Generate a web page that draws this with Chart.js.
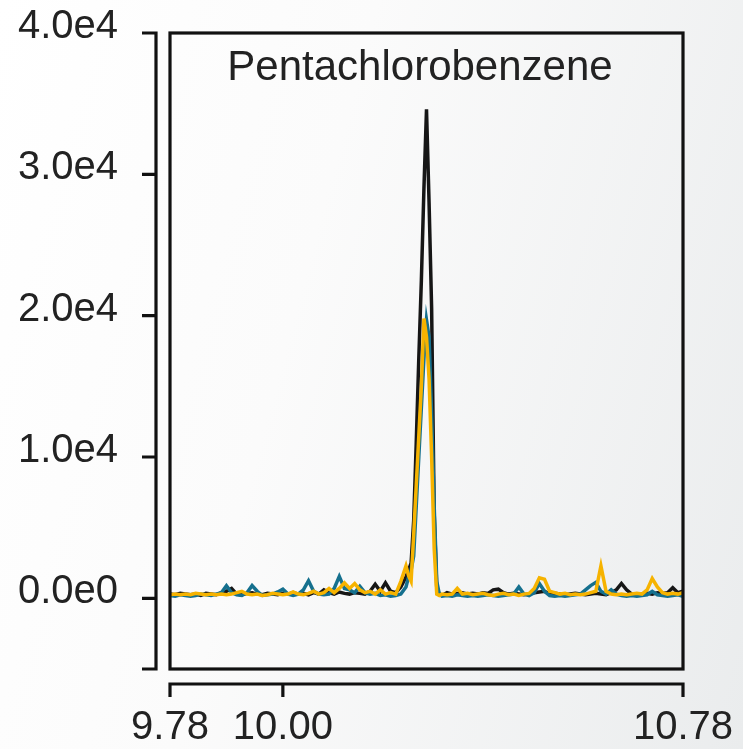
<!DOCTYPE html>
<html>
<head>
<meta charset="utf-8">
<script src="https://cdn.jsdelivr.net/npm/chart.js@4/dist/chart.umd.min.js"></script>
<style>
  html, body { margin: 0; padding: 0; }
  body { width: 743px; height: 749px; overflow: hidden;
         background: linear-gradient(105deg, #ffffff 0%, #fbfbfb 40%, #eaeced 100%); }
  canvas { display: block; }
</style>
</head>
<body>
<canvas id="c" width="743" height="749"></canvas>
<script>
// Retention time (min)
const retentionTimes = [
  9.78, 9.79, 9.80, 9.81, 9.82, 9.83, 9.84, 9.85, 9.86, 9.87,
  9.88, 9.89, 9.90, 9.91, 9.92, 9.93, 9.94, 9.95, 9.96, 9.97,
  9.98, 9.99, 10.00, 10.01, 10.02, 10.03, 10.04, 10.05, 10.06, 10.07,
  10.08, 10.09, 10.10, 10.11, 10.12, 10.13, 10.14, 10.15, 10.16, 10.17,
  10.18, 10.19, 10.20, 10.21, 10.22, 10.23, 10.24,
  10.245, 10.25, 10.255, 10.26, 10.265, 10.27, 10.275, 10.28, 10.285, 10.29,
  10.295, 10.30, 10.305, 10.31,
  10.32, 10.33, 10.34, 10.35, 10.36, 10.37, 10.38, 10.39, 10.40, 10.41,
  10.42, 10.43, 10.44, 10.45, 10.46, 10.47, 10.48, 10.49, 10.50, 10.51,
  10.52, 10.53, 10.54, 10.55, 10.56, 10.57, 10.58, 10.59, 10.60, 10.61,
  10.62, 10.63, 10.64, 10.65, 10.66, 10.67, 10.68, 10.69, 10.70, 10.71,
  10.72, 10.73, 10.74, 10.75, 10.76, 10.77, 10.78
];

const blackSignal = [
  300, 250, 350, 300, 250, 300, 200, 350, 300, 250,
  400, 500, 700, 300, 250, 350, 400, 300, 250, 350,
  300, 250, 350, 300, 400, 300, 350, 250, 400, 300,
  600, 400, 300, 450, 350, 300, 400, 350, 300, 500,
  1000, 500, 1100, 500, 400, 800, 1500,
  2000, 2500, 5500, 11000, 17000, 22500, 29000, 34600, 28000, 20500,
  6000, 700, 300, 200,
  400, 300, 350, 400, 300, 350, 300, 400, 350, 600,
  650, 400, 300, 350, 300, 250, 300, 400, 450, 500,
  300, 350, 300, 250, 300, 350, 300, 250, 300, 350,
  300, 250, 400, 600, 1050, 600, 300, 250, 300, 350,
  300, 400, 350, 400, 750, 400, 500
];

const blueSignal = [
  200, 150, 250, 200, 150, 200, 300, 250, 200, 300,
  400, 900, 400, 250, 200, 400, 900, 500, 200, 250,
  300, 450, 650, 300, 200, 300, 600, 1250, 500, 300,
  250, 300, 700, 1550, 700, 600, 400, 850, 400, 300,
  350, 200, 250, 150, 200, 300, 800,
  1500, 2000, 3000, 6500, 10000, 13500, 17000, 19700, 18500, 13000,
  6500, 1200, 300, 150,
  200, 150, 250, 200, 150, 200, 150, 200, 250, 200,
  150, 200, 250, 300, 800, 300, 200, 400, 1050, 500,
  200, 150, 200, 150, 200, 250, 300, 600, 900, 1130,
  500, 300, 600, 300, 200, 150, 200, 150, 200, 250,
  500, 250, 200, 150, 200, 250, 150
];

const orangeSignal = [
  250, 300, 250, 300, 250, 350, 300, 250, 300, 250,
  300, 250, 300, 400, 500, 300, 250, 300, 200, 250,
  350, 300, 250, 300, 450, 300, 250, 350, 500, 300,
  400, 700, 400, 700, 1100, 700, 1050, 600, 400, 500,
  300, 600, 300, 400, 300, 1200, 2300,
  1600, 1200, 4500, 8000, 11500, 15000, 19800, 18500, 15500, 10000,
  3500, 300, 200, 300,
  250, 300, 700, 300, 350, 250, 300, 350, 250, 200,
  300, 350, 250, 300, 200, 300, 350, 700, 1450, 1350,
  500, 400, 300, 350, 250, 300, 250, 300, 400, 500,
  2300, 500, 300, 250, 300, 250, 300, 350, 300, 600,
  1400, 800, 400, 300, 350, 300, 400
];

const xTickValues = [9.78, 10.00, 10.78];
const yTickValues = [0, 10000, 20000, 30000, 40000];
const yTickLabels = ['0.0e0', '1.0e4', '2.0e4', '3.0e4', '4.0e4'];
const chartTitle = 'Pentachlorobenzene';

const toPoints = arr => arr.map((v, i) => ({ x: retentionTimes[i], y: v }));

const FONT = '"Liberation Sans", Arial, Helvetica, sans-serif';

const framePlugin = {
  id: 'frame',
  afterDraw(chart) {
    const ctx = chart.ctx;
    const a = chart.chartArea;
    const xs = chart.scales.x, ys = chart.scales.y;
    ctx.save();
    ctx.strokeStyle = '#111';
    ctx.lineWidth = 3.2;
    ctx.lineCap = 'butt';
    // box
    ctx.strokeRect(a.left, a.top, a.right - a.left, a.bottom - a.top);
    // detached y axis
    const yAxisX = a.left - 14;
    ctx.beginPath();
    ctx.moveTo(yAxisX, ys.getPixelForValue(40000) - 1.6);
    ctx.lineTo(yAxisX, a.bottom + 1.6);
    yTickValues.forEach(v => {
      const p = ys.getPixelForValue(v);
      ctx.moveTo(yAxisX + 1.6, p);
      ctx.lineTo(yAxisX - 14, p);
    });
    ctx.moveTo(yAxisX + 1.6, a.bottom);
    ctx.lineTo(yAxisX - 14, a.bottom);
    ctx.stroke();
    // detached x axis
    const xAxisY = a.bottom + 15;
    ctx.beginPath();
    ctx.moveTo(xs.getPixelForValue(9.78) - 1.6, xAxisY);
    ctx.lineTo(xs.getPixelForValue(10.78) + 1.6, xAxisY);
    xTickValues.forEach(v => {
      const p = xs.getPixelForValue(v);
      ctx.moveTo(p, xAxisY - 1.6);
      ctx.lineTo(p, xAxisY + 13);
    });
    ctx.stroke();
    // title inside plot
    ctx.fillStyle = '#222';
    ctx.font = '42px ' + FONT;
    ctx.textAlign = 'center';
    ctx.textBaseline = 'alphabetic';
    ctx.fillText(chartTitle, 420, 80);
    ctx.restore();
  }
};

new Chart(document.getElementById('c'), {
  type: 'line',
  data: {
    datasets: [
      { label: 'black', data: toPoints(blackSignal), borderColor: '#161616', borderWidth: 3.5, order: 3 },
      { label: 'blue', data: toPoints(blueSignal), borderColor: '#15708e', borderWidth: 3.5, order: 2 },
      { label: 'orange', data: toPoints(orangeSignal), borderColor: '#f6b300', borderWidth: 3.5, order: 1 }
    ]
  },
  options: {
    responsive: false,
    animation: false,
    elements: { point: { radius: 0 }, line: { tension: 0 } },
    layout: { padding: { top: 33, right: 60, left: 0, bottom: 0 } },
    plugins: { legend: { display: false }, tooltip: { enabled: false }, title: { display: false } },
    scales: {
      x: {
        type: 'linear',
        min: 9.78, max: 10.78,
        afterBuildTicks: s => { s.ticks = xTickValues.map(v => ({ value: v })); },
        afterFit: s => { s.height = 80; s.paddingLeft = 0; s.paddingRight = 0; },
        grid: { display: false, drawTicks: false },
        border: { display: false },
        ticks: {
          color: '#222', padding: 35, maxRotation: 0, autoSkip: false,
          font: { size: 40, family: FONT },
          callback: v => v.toFixed(2)
        }
      },
      y: {
        type: 'linear',
        min: -5000, max: 40000,
        afterBuildTicks: s => { s.ticks = yTickValues.map(v => ({ value: v })); },
        afterFit: s => { s.width = 170; s.paddingTop = 0; s.paddingBottom = 0; },
        grid: { display: false, drawTicks: false },
        border: { display: false },
        ticks: {
          color: '#222', padding: 52, autoSkip: false, labelOffset: -6,
          font: { size: 40, family: FONT },
          callback: v => yTickLabels[yTickValues.indexOf(v)]
        }
      }
    }
  },
  plugins: [framePlugin]
});
</script>
</body>
</html>
